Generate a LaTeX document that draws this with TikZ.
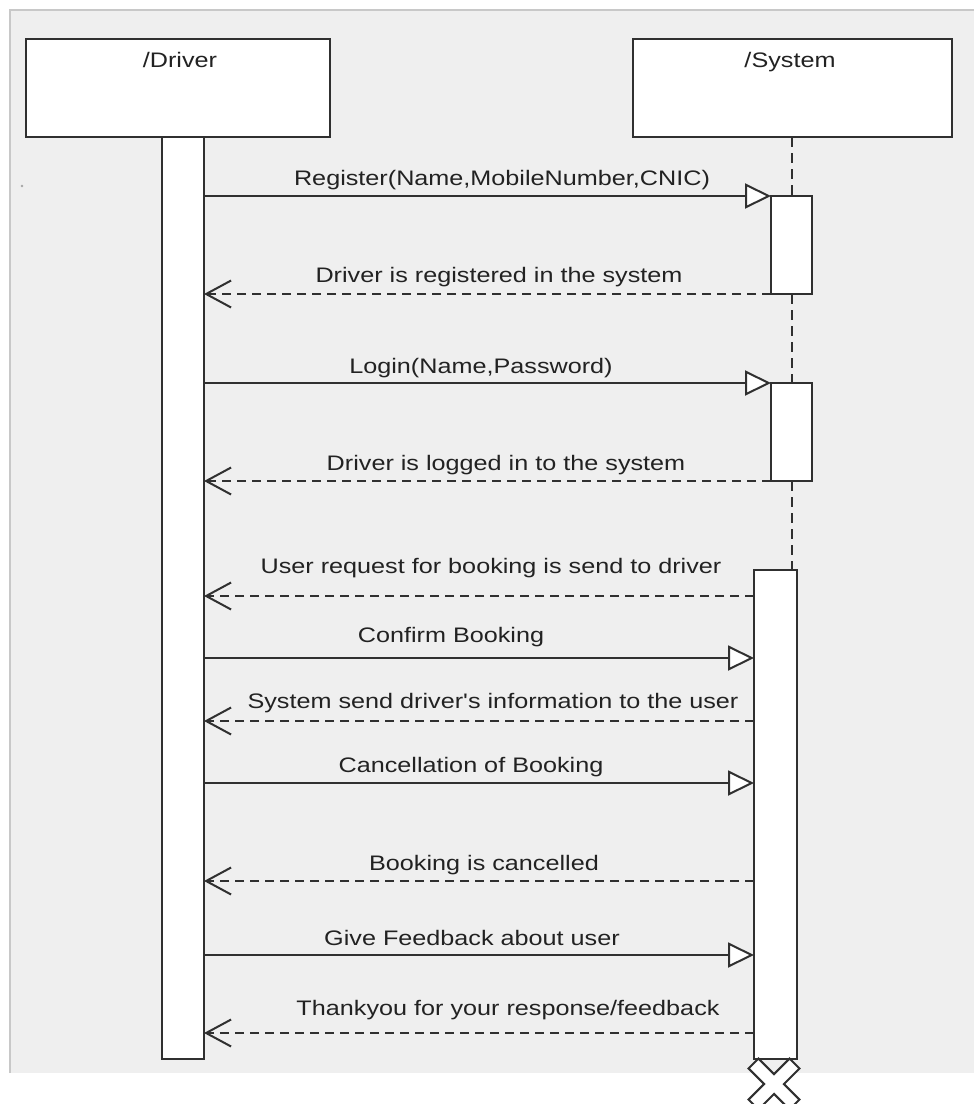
\documentclass[tikz,border=0pt]{standalone}
\usepackage{fontspec}
\newfontfamily\labelfont{Liberation Sans}[FakeStretch=1.2]
\usetikzlibrary{arrows.meta}
\definecolor{ink}{HTML}{303030}
\definecolor{txt}{HTML}{222222}
\definecolor{canvas}{HTML}{EFEFEF}
\definecolor{rim}{HTML}{C8C8C8}

\begin{document}
\begin{tikzpicture}[x=1pt,y=-1pt,
  every node/.style={inner sep=0pt, outer sep=0pt},
  headbox/.style={draw=ink, line width=2.4pt, fill=white, minimum height=98pt},
  bar/.style={draw=ink, line width=2.4pt, fill=white},
  msg/.style={anchor=base, text=txt, font=\labelfont\fontsize{21}{25}\selectfont},
  lifeline/.style={draw=ink, line width=2pt, dash pattern=on 10pt off 6pt},
  sync/.style={draw=ink, line width=2pt, -{Triangle[length=26pt, width=25pt, fill=white]}},
  reply/.style={draw=ink, line width=2pt, dash pattern=on 9pt off 6pt,
    -{Straight Barb[length=25pt, width=27pt]}}
]
\useasboundingbox (0,0) rectangle (974,1104);

% canvas
\fill[canvas] (10,10) rectangle (974,1073);
\draw[rim, line width=1.5pt] (10,1073) -- (10,10) -- (974,10);
\fill[gray!70] (22,186) circle (1.3pt);

% participants
\node[headbox, minimum width=304pt] (drv) at (178,88) {};
\node[headbox, minimum width=319pt] (sys) at (792.5,88) {};
\node[msg] (drvname) at (180,67) {/Driver};
\node[msg] (sysname) at (790,67) {/System};

% driver lifeline bar
\node[bar, minimum width=42pt, minimum height=922pt] (dbar) at (183,598) {};

% system activations
\node[bar, minimum width=41pt, minimum height=98pt] (act1) at (791.5,245) {};
\node[bar, minimum width=41pt, minimum height=98pt] (act2) at (791.5,432) {};
\node[bar, minimum width=43pt, minimum height=489pt] (sbar) at (775.5,814.5) {};

% system lifeline
\draw[lifeline] (sys.south -| act1.north) -- (act1.north);
\draw[lifeline] (act1.south) -- (act2.north);
\draw[lifeline] (act2.south) -- (act2.south |- sbar.north);

% message levels on the long activation
\coordinate (y5) at (0,596);
\coordinate (y6) at (0,658);
\coordinate (y7) at (0,721);
\coordinate (y8) at (0,783);
\coordinate (y9) at (0,881);
\coordinate (y10) at (0,955);
\coordinate (y11) at (0,1033);

% messages
\draw[sync] (dbar.east |- act1.north west) -- (act1.north west);
\node[msg] (t1) at (502,185) {Register(Name,MobileNumber,CNIC)};

\draw[reply] (act1.south west) -- (act1.south west -| dbar.east);
\node[msg] (t2) at (499,282) {Driver is registered in the system};

\draw[sync] (dbar.east |- act2.north west) -- (act2.north west);
\node[msg] (t3) at (481,373) {Login(Name,Password)};

\draw[reply] (act2.south west) -- (act2.south west -| dbar.east);
\node[msg] (t4) at (506,470) {Driver is logged in to the system};

\draw[reply] (sbar.west |- y5) -- (dbar.east |- y5);
\node[msg] (t5) at (491,573) {User request for booking is send to driver};

\draw[sync] (dbar.east |- y6) -- (sbar.west |- y6);
\node[msg] (t6) at (451,642) {Confirm Booking};

\draw[reply] (sbar.west |- y7) -- (dbar.east |- y7);
\node[msg] (t7) at (493,708) {System send driver's information to the user};

\draw[sync] (dbar.east |- y8) -- (sbar.west |- y8);
\node[msg] (t8) at (471,772) {Cancellation of Booking};

\draw[reply] (sbar.west |- y9) -- (dbar.east |- y9);
\node[msg] (t9) at (484,870) {Booking is cancelled};

\draw[sync] (dbar.east |- y10) -- (sbar.west |- y10);
\node[msg] (t10) at (472,945) {Give Feedback about user};

\draw[reply] (sbar.west |- y11) -- (dbar.east |- y11);
\node[msg] (t11) at (508,1015) {Thankyou for your response/feedback};

% destruction mark
\coordinate (xmark) at (774,1084);
\draw[ink, line width=2pt, fill=white, shift={(xmark)}, rotate=45]
  (7,7) -- (29,7) -- (29,-7) -- (7,-7) -- (7,-29) -- (-7,-29) -- (-7,-7)
  -- (-29,-7) -- (-29,7) -- (-7,7) -- (-7,29) -- (7,29) -- cycle;
\end{tikzpicture}
\end{document}
